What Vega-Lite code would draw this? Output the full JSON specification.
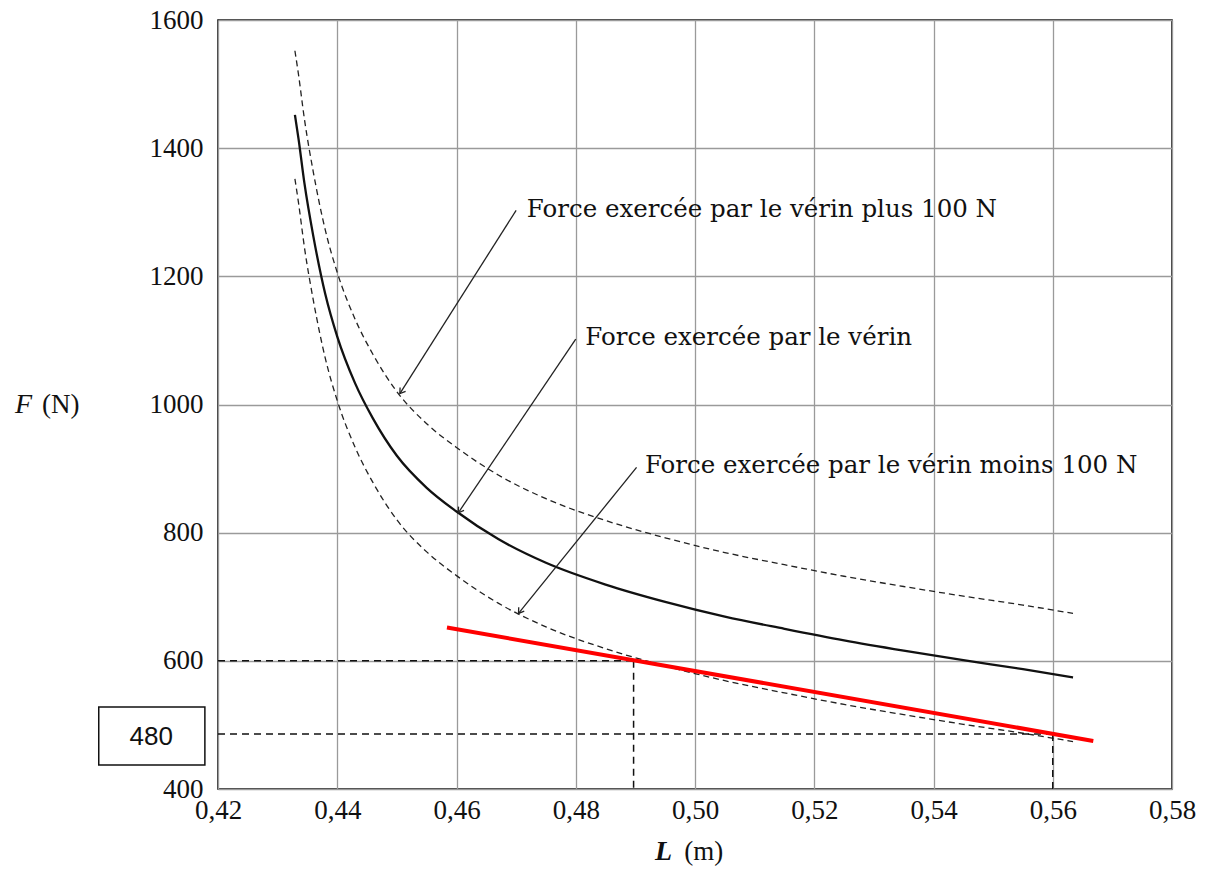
{
  "$schema": "https://vega.github.io/schema/vega-lite/v6.json",
  "width": 954,
  "height": 769,
  "autosize": "none",
  "padding": {"left": 218, "top": 20, "right": 34, "bottom": 81},
  "background": "white",
  "config": {
    "view": {"stroke": "black", "strokeWidth": 1.5},
    "axis": {
      "grid": true,
      "gridColor": "#9a9a9a",
      "gridWidth": 1.3,
      "domain": false,
      "ticks": false,
      "tickSize": 0,
      "labelFont": "Liberation Serif",
      "labelFontSize": 27,
      "labelColor": "#111",
      "labelOverlap": false,
      "labelFlush": false
    }
  },
  "datasets": {
    "curves": [
      {"L": 0.4329, "F": 1452, "series": "verin"},
      {"L": 0.4335, "F": 1415, "series": "verin"},
      {"L": 0.4345, "F": 1345, "series": "verin"},
      {"L": 0.4360, "F": 1262, "series": "verin"},
      {"L": 0.4380, "F": 1172, "series": "verin"},
      {"L": 0.4400, "F": 1106, "series": "verin"},
      {"L": 0.4430, "F": 1033, "series": "verin"},
      {"L": 0.4460, "F": 978, "series": "verin"},
      {"L": 0.4500, "F": 920, "series": "verin"},
      {"L": 0.4550, "F": 870, "series": "verin"},
      {"L": 0.4600, "F": 833, "series": "verin"},
      {"L": 0.4670, "F": 790, "series": "verin"},
      {"L": 0.4750, "F": 753, "series": "verin"},
      {"L": 0.4850, "F": 719, "series": "verin"},
      {"L": 0.4950, "F": 692, "series": "verin"},
      {"L": 0.5050, "F": 669, "series": "verin"},
      {"L": 0.5150, "F": 650, "series": "verin"},
      {"L": 0.5250, "F": 632, "series": "verin"},
      {"L": 0.5350, "F": 616, "series": "verin"},
      {"L": 0.5450, "F": 601, "series": "verin"},
      {"L": 0.5550, "F": 587, "series": "verin"},
      {"L": 0.5634, "F": 574, "series": "verin"},
      {"L": 0.4329, "F": 1552, "series": "plus"},
      {"L": 0.4335, "F": 1515, "series": "plus"},
      {"L": 0.4345, "F": 1445, "series": "plus"},
      {"L": 0.4360, "F": 1362, "series": "plus"},
      {"L": 0.4380, "F": 1272, "series": "plus"},
      {"L": 0.4400, "F": 1206, "series": "plus"},
      {"L": 0.4430, "F": 1133, "series": "plus"},
      {"L": 0.4460, "F": 1078, "series": "plus"},
      {"L": 0.4500, "F": 1020, "series": "plus"},
      {"L": 0.4550, "F": 970, "series": "plus"},
      {"L": 0.4600, "F": 933, "series": "plus"},
      {"L": 0.4670, "F": 890, "series": "plus"},
      {"L": 0.4750, "F": 853, "series": "plus"},
      {"L": 0.4850, "F": 819, "series": "plus"},
      {"L": 0.4950, "F": 792, "series": "plus"},
      {"L": 0.5050, "F": 769, "series": "plus"},
      {"L": 0.5150, "F": 750, "series": "plus"},
      {"L": 0.5250, "F": 732, "series": "plus"},
      {"L": 0.5350, "F": 716, "series": "plus"},
      {"L": 0.5450, "F": 701, "series": "plus"},
      {"L": 0.5550, "F": 687, "series": "plus"},
      {"L": 0.5634, "F": 674, "series": "plus"},
      {"L": 0.4329, "F": 1352, "series": "moins"},
      {"L": 0.4335, "F": 1315, "series": "moins"},
      {"L": 0.4345, "F": 1245, "series": "moins"},
      {"L": 0.4360, "F": 1162, "series": "moins"},
      {"L": 0.4380, "F": 1072, "series": "moins"},
      {"L": 0.4400, "F": 1006, "series": "moins"},
      {"L": 0.4430, "F": 933, "series": "moins"},
      {"L": 0.4460, "F": 878, "series": "moins"},
      {"L": 0.4500, "F": 820, "series": "moins"},
      {"L": 0.4550, "F": 770, "series": "moins"},
      {"L": 0.4600, "F": 733, "series": "moins"},
      {"L": 0.4670, "F": 690, "series": "moins"},
      {"L": 0.4750, "F": 653, "series": "moins"},
      {"L": 0.4850, "F": 619, "series": "moins"},
      {"L": 0.4950, "F": 592, "series": "moins"},
      {"L": 0.5050, "F": 569, "series": "moins"},
      {"L": 0.5150, "F": 550, "series": "moins"},
      {"L": 0.5250, "F": 532, "series": "moins"},
      {"L": 0.5350, "F": 516, "series": "moins"},
      {"L": 0.5450, "F": 501, "series": "moins"},
      {"L": 0.5550, "F": 487, "series": "moins"},
      {"L": 0.5634, "F": 474, "series": "moins"}
    ],
    "red": [
      {"L": 0.4584, "F": 652},
      {"L": 0.5668, "F": 475}
    ],
    "refs": [
      {"L1": 0.42, "F1": 600, "L2": 0.4897, "F2": 600},
      {"L1": 0.4897, "F1": 600, "L2": 0.4897, "F2": 400},
      {"L1": 0.42, "F1": 486, "L2": 0.5600, "F2": 486},
      {"L1": 0.5600, "F1": 486, "L2": 0.5600, "F2": 400}
    ],
    "arrows": [
      {"L1": 0.4700, "F1": 1303, "L2": 0.4505, "F2": 1017},
      {"L1": 0.4800, "F1": 1102, "L2": 0.4603, "F2": 831},
      {"L1": 0.4902, "F1": 902, "L2": 0.4704, "F2": 674}
    ],
    "labels": [
      {"L": 0.4718, "F": 1303, "text": "Force exercée par le vérin plus 100 N"},
      {"L": 0.4816, "F": 1103, "text": "Force exercée par le vérin"},
      {"L": 0.4916, "F": 904, "text": "Force exercée par le vérin moins 100 N"}
    ],
    "box": [
      {"L1": 0.4000, "L2": 0.4178, "F1": 437.5, "F2": 528, "Lc": 0.4088, "Fc": 481, "text": "480"}
    ],
    "titleVars": [
      {"L": 0.38595, "F": 999, "text": "F", "kind": "y"},
      {"L": 0.49329, "F": 302, "text": "L", "kind": "x"}
    ],
    "titleUnits": [
      {"L": 0.39048, "F": 999, "text": "(N)"},
      {"L": 0.49820, "F": 302, "text": "(m)"}
    ]
  },
  "layer": [
    {
      "data": {"name": "curves"},
      "transform": [{"filter": "datum.series === 'plus'"}],
      "mark": {"type": "line", "interpolate": "monotone", "stroke": "#222", "strokeWidth": 1.3, "strokeDash": [6, 4]},
      "encoding": {
        "x": {
          "field": "L", "type": "quantitative",
          "scale": {"domain": [0.42, 0.58], "nice": false, "zero": false},
          "title": null,
          "axis": {
            "values": [0.42, 0.44, 0.46, 0.48, 0.5, 0.52, 0.54, 0.56, 0.58],
            "labelExpr": "replace(format(datum.value, '.2f'), '.', ',')",
            "labelPadding": 8
          }
        },
        "y": {
          "field": "F", "type": "quantitative",
          "scale": {"domain": [400, 1600], "nice": false, "zero": false},
          "title": null,
          "axis": {
            "values": [400, 600, 800, 1000, 1200, 1400, 1600],
            "labelExpr": "format(datum.value, 'd')",
            "labelPadding": 15
          }
        }
      }
    },
    {
      "data": {"name": "curves"},
      "transform": [{"filter": "datum.series === 'moins'"}],
      "mark": {"type": "line", "interpolate": "monotone", "stroke": "#222", "strokeWidth": 1.3, "strokeDash": [6, 4]},
      "encoding": {
        "x": {"field": "L", "type": "quantitative", "title": null},
        "y": {"field": "F", "type": "quantitative", "title": null}
      }
    },
    {
      "data": {"name": "curves"},
      "transform": [{"filter": "datum.series === 'verin'"}],
      "mark": {"type": "line", "interpolate": "monotone", "stroke": "#111", "strokeWidth": 2.3},
      "encoding": {
        "x": {"field": "L", "type": "quantitative", "title": null},
        "y": {"field": "F", "type": "quantitative", "title": null}
      }
    },
    {
      "data": {"name": "refs"},
      "mark": {"type": "rule", "stroke": "#111", "strokeWidth": 1.5, "strokeDash": [7, 5]},
      "encoding": {
        "x": {"field": "L1", "type": "quantitative", "title": null},
        "x2": {"field": "L2"},
        "y": {"field": "F1", "type": "quantitative", "title": null},
        "y2": {"field": "F2"}
      }
    },
    {
      "data": {"name": "red"},
      "mark": {"type": "line", "stroke": "#ff0000", "strokeWidth": 4},
      "encoding": {
        "x": {"field": "L", "type": "quantitative", "title": null},
        "y": {"field": "F", "type": "quantitative", "title": null}
      }
    },
    {
      "data": {"name": "arrows"},
      "mark": {"type": "rule", "stroke": "#222", "strokeWidth": 1.3},
      "encoding": {
        "x": {"field": "L1", "type": "quantitative", "title": null},
        "x2": {"field": "L2"},
        "y": {"field": "F1", "type": "quantitative", "title": null},
        "y2": {"field": "F2"}
      }
    },
    {
      "data": {"name": "arrows"},
      "mark": {"type": "point", "shape": "M -0.55 0.85 L 0 0 L 0.55 0.85", "filled": false, "stroke": "#222", "strokeWidth": 1.3, "size": 150, "angle": 215, "opacity": 1},
      "encoding": {
        "x": {"field": "L2", "type": "quantitative", "title": null},
        "y": {"field": "F2", "type": "quantitative", "title": null}
      }
    },
    {
      "data": {"name": "labels"},
      "mark": {"type": "text", "align": "left", "baseline": "middle", "font": "DejaVu Serif", "fontSize": 24.5, "color": "#111"},
      "encoding": {
        "x": {"field": "L", "type": "quantitative", "title": null},
        "y": {"field": "F", "type": "quantitative", "title": null},
        "text": {"field": "text"}
      }
    },
    {
      "data": {"name": "box"},
      "mark": {"type": "rect", "fill": "white", "stroke": "#111", "strokeWidth": 1.5},
      "encoding": {
        "x": {"field": "L1", "type": "quantitative", "title": null},
        "x2": {"field": "L2"},
        "y": {"field": "F1", "type": "quantitative", "title": null},
        "y2": {"field": "F2"}
      }
    },
    {
      "data": {"name": "box"},
      "mark": {"type": "text", "align": "center", "baseline": "middle", "font": "Liberation Sans", "fontSize": 26, "color": "#111"},
      "encoding": {
        "x": {"field": "Lc", "type": "quantitative", "title": null},
        "y": {"field": "Fc", "type": "quantitative", "title": null},
        "text": {"field": "text"}
      }
    },
    {
      "data": {"name": "titleVars"},
      "transform": [{"filter": "datum.kind === 'y'"}],
      "mark": {"type": "text", "align": "left", "baseline": "middle", "font": "Liberation Serif", "fontSize": 28, "fontStyle": "italic", "color": "#111"},
      "encoding": {
        "x": {"field": "L", "type": "quantitative", "title": null},
        "y": {"field": "F", "type": "quantitative", "title": null},
        "text": {"field": "text"}
      }
    },
    {
      "data": {"name": "titleVars"},
      "transform": [{"filter": "datum.kind === 'x'"}],
      "mark": {"type": "text", "align": "left", "baseline": "middle", "font": "Liberation Serif", "fontSize": 28, "fontStyle": "italic", "fontWeight": "bold", "color": "#111"},
      "encoding": {
        "x": {"field": "L", "type": "quantitative", "title": null},
        "y": {"field": "F", "type": "quantitative", "title": null},
        "text": {"field": "text"}
      }
    },
    {
      "data": {"name": "titleUnits"},
      "mark": {"type": "text", "align": "left", "baseline": "middle", "font": "Liberation Serif", "fontSize": 27, "color": "#111"},
      "encoding": {
        "x": {"field": "L", "type": "quantitative", "title": null},
        "y": {"field": "F", "type": "quantitative", "title": null},
        "text": {"field": "text"}
      }
    }
  ]
}
